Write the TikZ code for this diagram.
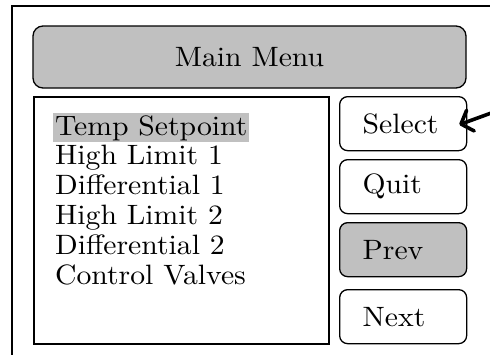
\documentclass[tikz,border=0pt]{standalone}
\usepackage{fontspec}
\setmainfont{lmroman10-regular.otf}[FakeStretch=1.06]
\usetikzlibrary{arrows.meta}
\definecolor{panelgray}{HTML}{C0C0C0}
\tikzset{
  screenfont/.style={font=\fontsize{28}{32}\selectfont},
  menubar/.style={draw, fill=panelgray, rounded corners=10pt, line width=1.3pt,
    minimum width=433pt, minimum height=62pt, screenfont},
  softkey/.style={draw, rounded corners=8pt, line width=1.3pt, anchor=north west,
    text width=81pt, inner xsep=23pt, align=left, minimum height=54pt, screenfont},
  menuitem/.style={anchor=base west, inner xsep=2pt, inner ysep=2pt, screenfont}
}
\begin{document}
\begin{tikzpicture}[x=1pt, y=-1pt]
        \clip (0,0) rectangle (490,354);

        % Outer panel
        \draw[line width=2.2pt] (12,370) -- (12,6) -- (500,6);

        % Title bar
        \node[menubar] (title) at (249.5,57) {Main Menu};

        % List of entries
        \node[draw, line width=1.6pt, anchor=north west, minimum width=295pt,
              minimum height=247pt] (list) at (33,96) {};
        \node[menuitem, fill=panelgray] (item1) at (53,135) {Temp Setpoint};
        \foreach \i/\txt in {2/High Limit 1, 3/Differential 1, 4/High Limit 2,
                             5/Differential 2, 6/Control Valves} {
            \pgfmathsetmacro{\yb}{135 + (\i-1)*29.8}
            \node[menuitem] (item\i) at (53,\yb) {\txt};
        }

        % Soft keys
        \foreach \name/\lbl/\top/\shade in {select/Select/96/white, quit/Quit/159/white,
                                            prev/Prev/222/panelgray, next/Next/289/white} {
            \node[softkey, fill=\shade] (\name) at (339,\top) {\lbl};
        }

        % Pointer
        \coordinate (pointer) at (494,112);
        \draw[line width=3.6pt, line cap=round,
              -{Straight Barb[length=10pt, width=22pt, line width=3.6pt, round]}]
            (pointer) -- ([xshift=-8pt,yshift=-1pt]select.east);

    \end{tikzpicture}
\end{document}
